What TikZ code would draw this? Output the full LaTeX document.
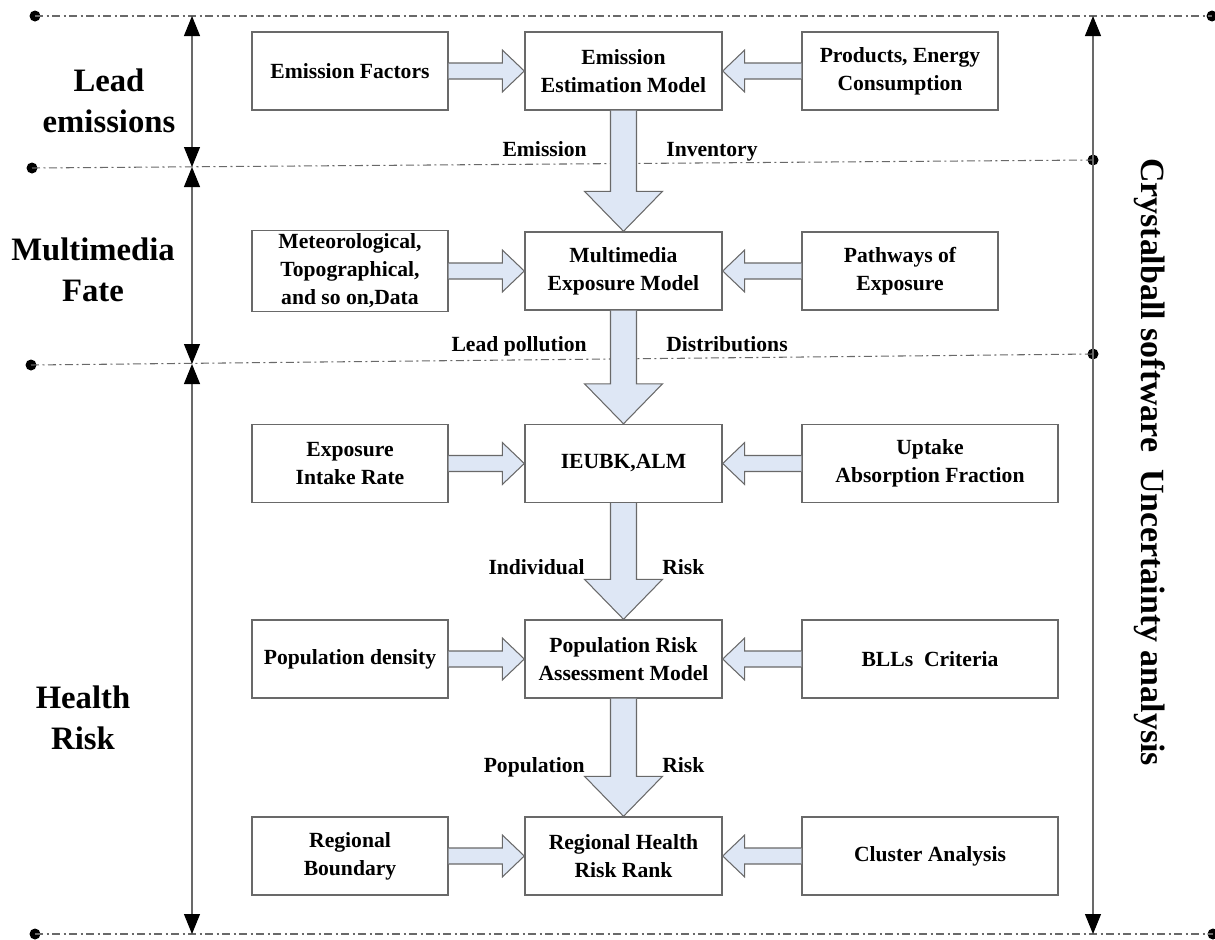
\documentclass[tikz,border=0pt]{standalone}
\usepackage{fontspec}
\setmainfont{Liberation Serif}
\usetikzlibrary{arrows.meta,calc}

\definecolor{arrowfill}{RGB}{222,231,245}
\definecolor{edgegray}{RGB}{105,105,105}

\newcommand{\flowfont}{\bfseries\fontsize{12.3}{15.9}\selectfont}
\newcommand{\sidefont}{\bfseries\fontsize{18.6}{23.2}\selectfont}

% fat arrows between boxes (units are pixels of the picture)
\newcommand{\rightfat}[2]{\draw[fat] ($(#1)+(0,-8)$) -- ($(#2)+(-22,-8)$) -- ($(#2)+(-22,-21)$) -- (#2) -- ($(#2)+(-22,21)$) -- ($(#2)+(-22,8)$) -- ($(#1)+(0,8)$);}
\newcommand{\leftfat}[2]{\draw[fat] ($(#1)+(0,-8)$) -- ($(#2)+(22,-8)$) -- ($(#2)+(22,-21)$) -- (#2) -- ($(#2)+(22,21)$) -- ($(#2)+(22,8)$) -- ($(#1)+(0,8)$);}
\newcommand{\downfat}[2]{\draw[fat] ($(#1)+(-13,0)$) -- ($(#2)+(-13,-40)$) -- ($(#2)+(-39,-40)$) -- (#2) -- ($(#2)+(39,-40)$) -- ($(#2)+(13,-40)$) -- ($(#1)+(13,0)$);}

\tikzset{
  box/.style={draw=edgegray, line width=0.8pt, minimum height=1.56cm, align=center, inner sep=2pt, font=\flowfont},
  fat/.style={draw=edgegray, fill=arrowfill, line width=0.6pt},
  flow/.style={font=\flowfont, inner sep=0pt},
  side/.style={font=\sidefont, align=center, inner sep=0pt},
  sepline/.style={draw=edgegray, line width=0.6pt, dash pattern=on 1.6mm off 0.7mm on 0.4mm off 0.7mm},
  dot/.style={circle, fill=black, inner sep=0pt, minimum size=2.2mm},
  span/.style={draw=edgegray, line width=0.6pt, {Triangle[length=4mm,width=3.2mm,color=black]}-{Triangle[length=4mm,width=3.2mm,color=black]}},
}

\begin{document}
\begin{tikzpicture}[x=0.2mm, y=-0.2mm]
\useasboundingbox (0,0) rectangle (1215,939);

% dash-dot separators
\node[dot] (a1) at (35,16) {};
\node[dot] (a2) at (1212,16) {};
\node[dot] (b1) at (32,168) {};
\node[dot] (b2) at (1093,160) {};
\node[dot] (c1) at (31,365) {};
\node[dot] (c2) at (1093,354) {};
\node[dot] (d1) at (35,934) {};
\node[dot] (d2) at (1213,934) {};
\draw[sepline] (a1.center) -- (a2.center);
\draw[sepline] (b1.center) -- (b2.center);
\draw[sepline] (c1.center) -- (c2.center);
\draw[sepline] (d1.center) -- (d2.center);

\coordinate (t1) at (192,16);
\coordinate (t2) at (192,167);
\coordinate (t3) at (192,364);
\coordinate (t4) at (192,934);
\coordinate (u1) at (1093,16);
\coordinate (u2) at (1093,934);
\draw[span] (t1) -- (t2);
\draw[span] (t2) -- (t3);
\draw[span] (t3) -- (t4);
\draw[span] (u1) -- (u2);

\node[side] (lead) at (109,101) {Lead\\emissions};
\node[side] (fate) at (93,270) {Multimedia\\Fate};
\node[side] (health) at (83,718) {Health\\Risk};
\node[side, font=\bfseries\fontsize{19.3}{23}\selectfont, rotate=-90] (unc) at (1150,462) {Crystalball software\ \ Uncertainty analysis};

% boxes
\node[box, minimum width=3.92cm] (L1) at (350,71) {Emission Factors};
\node[box, minimum width=3.94cm] (C1) at (623.5,71) {Emission\\Estimation Model};
\node[box, minimum width=3.92cm] (R1) at (900,71) {Products, Energy\\Consumption};

\node[box, minimum width=3.92cm] (L2) at (350,271) {Meteorological,\\Topographical,\\and so on,Data};
\node[box, minimum width=3.94cm] (C2) at (623.5,271) {Multimedia\\Exposure Model};
\node[box, minimum width=3.92cm] (R2) at (900,271) {Pathways of\\Exposure};

\node[box, minimum width=3.92cm] (L3) at (350,463.5) {Exposure\\Intake Rate};
\node[box, minimum width=3.94cm] (C3) at (623.5,463.5) {IEUBK,ALM};
\node[box, minimum width=5.12cm] (R3) at (930,463.5) {Uptake\\Absorption Fraction};

\node[box, minimum width=3.92cm] (L4) at (350,659) {Population density};
\node[box, minimum width=3.94cm] (C4) at (623.5,659) {Population Risk\\Assessment Model};
\node[box, minimum width=5.12cm] (R4) at (930,659) {BLLs\ \ Criteria};

\node[box, minimum width=3.92cm] (L5) at (350,856) {Regional\\Boundary};
\node[box, minimum width=3.94cm] (C5) at (623.5,856) {Regional Health\\Risk Rank};
\node[box, minimum width=5.12cm] (R5) at (930,856) {Cluster Analysis};

% fat arrows
\rightfat{L1.east}{C1.west}
\leftfat{R1.west}{C1.east}
\rightfat{L2.east}{C2.west}
\leftfat{R2.west}{C2.east}
\rightfat{L3.east}{C3.west}
\leftfat{R3.west}{C3.east}
\rightfat{L4.east}{C4.west}
\leftfat{R4.west}{C4.east}
\rightfat{L5.east}{C5.west}
\leftfat{R5.west}{C5.east}
\downfat{C1.south}{C2.north}
\downfat{C2.south}{C3.north}
\downfat{C3.south}{C4.north}
\downfat{C4.south}{C5.north}

% labels beside the down arrows
\node[flow, anchor=base east] (e1) at (587,156) {Emission};
\node[flow, anchor=base west] (i1) at (666,156) {Inventory};
\node[flow, anchor=base east] (e2) at (587,351) {Lead pollution};
\node[flow, anchor=base west] (i2) at (666,351) {Distributions};
\node[flow, anchor=base east] (e3) at (585,574) {Individual};
\node[flow, anchor=base west] (i3) at (662,574) {Risk};
\node[flow, anchor=base east] (e4) at (585,772) {Population};
\node[flow, anchor=base west] (i4) at (662,772) {Risk};
\end{tikzpicture}
\end{document}
